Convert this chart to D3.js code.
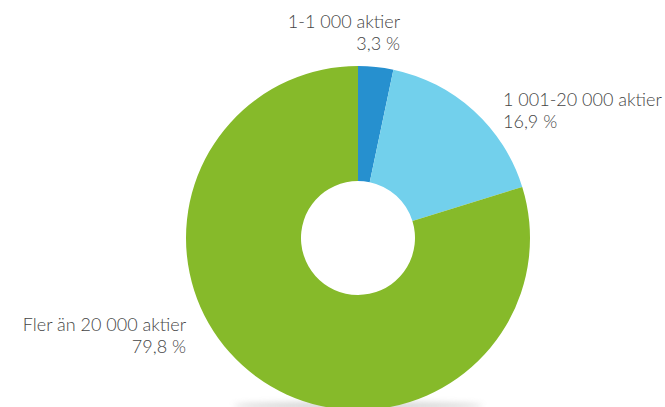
<!DOCTYPE html>
<html>
<head>
<meta charset="utf-8">
<script src="https://cdn.jsdelivr.net/npm/d3@7"></script>
<style>
  html, body { margin: 0; padding: 0; background: #fff; }
  svg { display: block; }
  .lbl { font-family: "Lato", sans-serif; font-weight: 300; font-size: 18px; fill: #454545; }
</style>
</head>
<body>
<svg></svg>
<script>
const categories = ["1-1 000 aktier", "1 001-20 000 aktier", "Fler än 20 000 aktier"];
const values = [3.3, 16.9, 79.8];
const valueLabels = ["3,3 %", "16,9 %", "79,8 %"];
const colors = ["#2690cf", "#72d0ec", "#86ba2a"];

const width = 665, height = 407;
const cx = 358, cy = 238;
const outerR = 172, innerR = 57;

const svg = d3.select("svg")
  .attr("width", width)
  .attr("height", height);

// soft shadow under the ring
const defs = svg.append("defs");
defs.append("filter").attr("id", "blur")
  .attr("x", "-50%").attr("y", "-200%").attr("width", "200%").attr("height", "500%")
  .append("feGaussianBlur").attr("stdDeviation", 3);

svg.append("ellipse")
  .attr("cx", cx).attr("cy", cy + outerR - 4)
  .attr("rx", 125).attr("ry", 4)
  .attr("fill", "#a0a0a0")
  .attr("opacity", 0.45)
  .attr("filter", "url(#blur)");

const g = svg.append("g")
  .attr("transform", `translate(${cx},${cy})`);

const pie = d3.pie().sort(null).value(d => d);
const arc = d3.arc().innerRadius(innerR).outerRadius(outerR);

g.selectAll("path")
  .data(pie(values))
  .enter().append("path")
  .attr("d", arc)
  .attr("fill", (d, i) => colors[i]);

// label positions, tuned by eye
const labelPos = [
  { x: 400, y: 28, anchor: "end" },
  { x: 503, y: 106, anchor: "start" },
  { x: 186, y: 331, anchor: "end" }
];

categories.forEach((c, i) => {
  const p = labelPos[i];
  const t = svg.append("text")
    .attr("class", "lbl")
    .attr("x", p.x).attr("y", p.y)
    .attr("text-anchor", p.anchor);
  t.append("tspan").attr("x", p.x).text(c);
  t.append("tspan").attr("x", p.x).attr("dy", 22).text(valueLabels[i]);
});
</script>
</body>
</html>
